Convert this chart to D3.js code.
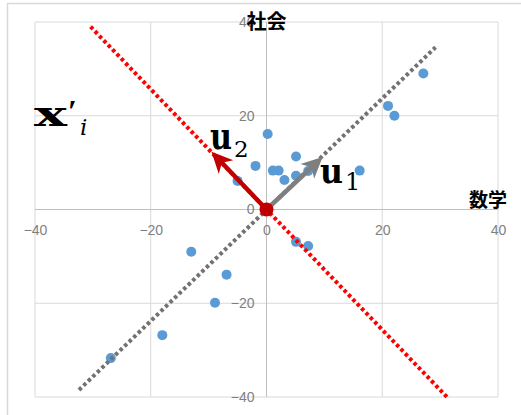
<!DOCTYPE html>
<html>
<head>
<meta charset="utf-8">
<script src="https://cdn.jsdelivr.net/npm/d3@7"></script>
<style>
  body { margin: 0; background: #fff; }
  svg { display: block; }
</style>
</head>
<body>
<div id="container"></div>
<script>
    // chart values
    const mathScores = [27.1, 21.0, 22.1, 0.2, 5.1, 1.1, 2.1, 3.1, 5.1, 7.2, 16.1, -1.9, -5.0, -13.0, -6.9, -8.9, -18.0, -26.9, 5.1, 7.2];
    const socialScores = [29.0, 22.1, 20.0, 16.1, 11.3, 8.3, 8.3, 6.3, 7.2, 8.2, 8.3, 9.3, 6.1, -9.0, -13.9, -19.9, -26.8, -31.7, -6.9, -7.8];
    const tickValues = [-40, -20, 0, 20, 40];
    const gridValues = [-40, -20, 20, 40];
    // dotted principal axes: [start, end]
    const axis1Line = [[-32.4, -38.5], [29.2, 34.6]];
    const axis2Line = [[-30.4, 39.0], [31.5, -40.4]];
    // vectors from the origin
    const u1Tip = [9.7, 11.2];
    const u2Tip = [-9.5, 12.3];

    const width = 521;
    const height = 415;

    const x = d3.scaleLinear().domain([-40, 40]).range([35, 498]);
    const y = d3.scaleLinear().domain([-40, 40]).range([397, 22]);

    const svg = d3.create("svg")
        .attr("width", width)
        .attr("height", height);

    // chart border
    svg.append("rect")
        .attr("x", 7.5).attr("y", 3.5)
        .attr("width", 530).attr("height", 430)
        .attr("fill", "none")
        .attr("stroke", "#d9d9d9")
        .attr("stroke-width", 1.5);

    // gridlines
    svg.selectAll(".vgrid").data(gridValues).join("line")
        .attr("x1", d => x(d)).attr("x2", d => x(d))
        .attr("y1", y(40)).attr("y2", y(-40))
        .attr("stroke", "#d9d9d9");
    svg.selectAll(".hgrid").data(gridValues).join("line")
        .attr("y1", d => y(d)).attr("y2", d => y(d))
        .attr("x1", x(-40)).attr("x2", x(40))
        .attr("stroke", "#d9d9d9");

    // axis lines through zero
    svg.append("line")
        .attr("x1", x(0)).attr("x2", x(0))
        .attr("y1", y(40)).attr("y2", y(-40))
        .attr("stroke", "#bfbfbf");
    svg.append("line")
        .attr("x1", x(-40)).attr("x2", x(40))
        .attr("y1", y(0)).attr("y2", y(0))
        .attr("stroke", "#bfbfbf");

    // tick labels
    const xAxis = svg.append("g")
        .attr("transform", `translate(0,${y(0)})`)
        .call(d3.axisBottom(x).tickValues(tickValues).tickSize(0).tickPadding(16));
    const yAxis = svg.append("g")
        .attr("transform", `translate(${x(0)},0)`)
        .call(d3.axisLeft(y).tickValues(tickValues).tickSize(0).tickPadding(12));
    [xAxis, yAxis].forEach(g => {
        g.select(".domain").remove();
        g.selectAll("text")
            .attr("fill", "#7f7f7f")
            .attr("font-family", "Liberation Sans, Arial, sans-serif")
            .attr("font-size", 14);
    });

    // axis titles
    svg.append("text")
        .attr("x", x(0)).attr("y", 29)
        .attr("text-anchor", "middle")
        .attr("font-family", "Noto Sans CJK JP")
        .attr("font-weight", "bold")
        .attr("font-size", 20)
        .text("社会");
    svg.append("text")
        .attr("x", 488).attr("y", 207)
        .attr("text-anchor", "middle")
        .attr("font-family", "Noto Sans CJK JP")
        .attr("font-weight", "bold")
        .attr("font-size", 19)
        .text("数学");

    // data points
    svg.selectAll(".pt").data(mathScores).join("circle")
        .attr("cx", (d, i) => x(d))
        .attr("cy", (d, i) => y(socialScores[i]))
        .attr("r", 5)
        .attr("fill", "#5b9bd5");

    // dotted lines
    const line = d3.line().x(d => x(d[0])).y(d => y(d[1]));
    svg.append("path")
        .attr("d", line(axis1Line))
        .attr("stroke", "#767171")
        .attr("stroke-width", 4)
        .attr("stroke-dasharray", "3.5,2.8")
        .attr("fill", "none");
    svg.append("path")
        .attr("d", line(axis2Line))
        .attr("stroke", "#ff0000")
        .attr("stroke-width", 4)
        .attr("stroke-dasharray", "3.5,2.8")
        .attr("fill", "none");

    // arrows
    function arrow(tip, color) {
        const x0 = x(0), y0 = y(0);
        const tx = x(tip[0]), ty = y(tip[1]);
        const dx = tx - x0, dy = ty - y0;
        const len = Math.hypot(dx, dy);
        const ux = dx / len, uy = dy / len;
        svg.append("line")
            .attr("x1", x0).attr("y1", y0)
            .attr("x2", tx - ux * 14).attr("y2", ty - uy * 14)
            .attr("stroke", color)
            .attr("stroke-width", 4.5);
        const ang = Math.atan2(dy, dx) * 180 / Math.PI;
        svg.append("path")
            .attr("d", "M0,0 L-21,-10 L-15,0 L-21,10 Z")
            .attr("transform", `translate(${tx},${ty}) rotate(${ang})`)
            .attr("fill", color);
    }
    arrow(u1Tip, "#7f7f7f");
    arrow(u2Tip, "#c00000");

    // origin
    svg.append("circle")
        .attr("cx", x(0)).attr("cy", y(0))
        .attr("r", 7)
        .attr("fill", "#c00000");

    // math labels
    function mathText(px, py, str, size, opts) {
        const t = svg.append("text")
            .attr("x", px).attr("y", py)
            .attr("font-family", opts.family || "DejaVu Serif, serif")
            .attr("font-size", size)
            .text(str);
        if (opts.bold) t.attr("font-weight", "bold");
        if (opts.italic) t.attr("font-style", "italic");
        if (opts.len) t.attr("textLength", opts.len).attr("lengthAdjust", "spacingAndGlyphs");
        return t;
    }
    mathText(34, 126, "x", 36, {bold: true, len: 33});
    mathText(68, 122, "′", 32, {bold: true, family: "Liberation Serif, serif"});
    mathText(80, 135, "i", 23, {italic: true});
    mathText(210, 149, "u", 38, {bold: true, len: 22});
    mathText(234, 157, "2", 23, {});
    mathText(320, 183, "u", 36, {bold: true, len: 23});
    mathText(345, 190, "1", 24, {});

    container.append(svg.node());
</script>
</body>
</html>
